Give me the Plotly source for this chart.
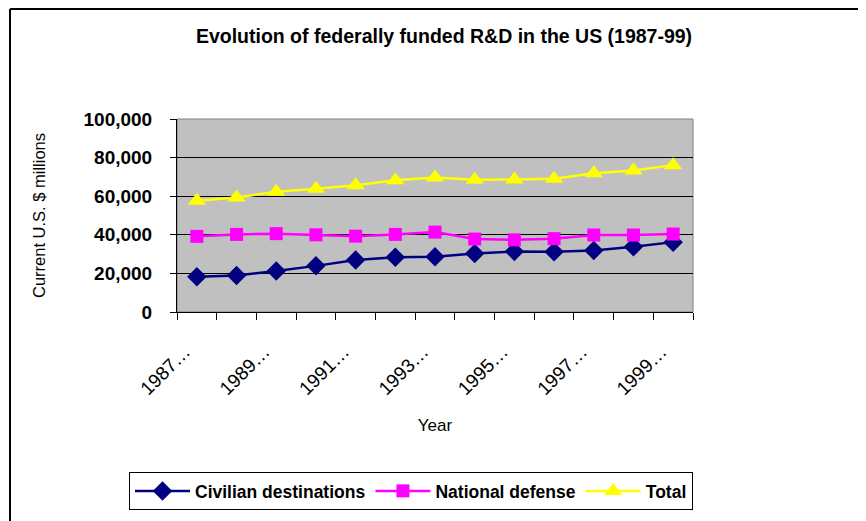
import plotly.graph_objects as go

years = [1987, 1988, 1989, 1990, 1991, 1992, 1993, 1994, 1995, 1996, 1997, 1998, 1999]
civilian = [18200, 18900, 21300, 23900, 26900, 28400, 28600, 30300, 31400, 31200, 31900, 33800, 36200]
defense = [39200, 40200, 40600, 40000, 39300, 40200, 41400, 37800, 37400, 38000, 39900, 39900, 40400]
total = [57600, 59300, 62300, 63800, 65700, 68300, 69700, 68500, 68600, 69000, 71900, 73300, 76100]
label_years = [1987, 1989, 1991, 1993, 1995, 1997, 1999]
label_text = [f"{y}\u2026" for y in label_years]
y_ticks = [0, 20000, 40000, 60000, 80000, 100000]

FONT = "Liberation Sans, Arial, sans-serif"

fig = go.Figure()
fig.add_trace(go.Scatter(x=years, y=civilian, name="Civilian destinations", mode="lines+markers",
                         line=dict(color="#000080", width=2.5),
                         marker=dict(symbol="diamond", size=15, color="#000080")))
fig.add_trace(go.Scatter(x=years, y=defense, name="National defense", mode="lines+markers",
                         line=dict(color="#FF00FF", width=2.5),
                         marker=dict(symbol="square", size=13, color="#FF00FF")))
fig.add_trace(go.Scatter(x=years, y=total, name="Total", mode="lines+markers",
                         line=dict(color="#FFFF00", width=2.5),
                         marker=dict(symbol="triangle-up", size=16, color="#FFFF00")))

# page offset of the figure div (default body margin)
OX, OY = 8, 8
W, H = 866 - OX, 521 - OY
L, R, T, B = 177 - OX, 866 - 693, 119 - OY, 521 - 312
pw, ph = W - L - R, H - T - B

def px(xp):
    return (xp - OX - L) / pw

def py(yp):
    return (OY + H - B - yp) / ph

fig.update_layout(
    width=W, height=H,
    margin=dict(l=L, r=R, t=T, b=B, autoexpand=False),
    paper_bgcolor="white",
    plot_bgcolor="#C0C0C0",
    font=dict(family=FONT, size=17, color="black"),
    title=dict(text="Evolution of federally funded R&D in the US (1987-99)",
               x=px(444), xref="paper", xanchor="center", y=1 - (36 - OY) / H, yanchor="middle",
               font=dict(size=19.5, family=FONT, weight="bold")),
    showlegend=True,
    legend=dict(orientation="h", x=px(129), y=py(491), xanchor="left", yanchor="middle",
                bordercolor="black", borderwidth=1, bgcolor="white",
                font=dict(size=17.5, family=FONT, weight="bold"), tracegroupgap=0,
                itemwidth=55),
    xaxis=dict(range=[1986.5, 1999.5], tickvals=label_years, ticktext=label_text,
               tickangle=-45, ticks="", showgrid=False, zeroline=False,
               showline=True, linecolor="black", linewidth=1,
               tickfont=dict(size=19, family=FONT), ticklabelstandoff=20, ticklabelshift=-12,
               minor=dict(tick0=1986.5, dtick=1, ticks="outside", ticklen=7,
                          tickcolor="black", showgrid=False),
               title=dict(text="Year", font=dict(size=17, family=FONT), standoff=20),
               automargin=False, fixedrange=True),
    yaxis=dict(range=[0, 100000], tickvals=y_ticks, tickformat=",d",
               ticks="outside", ticklen=6, tickcolor="black",
               showgrid=True, gridcolor="black", gridwidth=1, zeroline=False,
               showline=True, linecolor="black", linewidth=1,
               tickfont=dict(size=19, family=FONT, weight="bold"), ticklabelstandoff=14,
               title=dict(text="Current U.S. $ millions", font=dict(size=16.5, family=FONT), standoff=33),
               automargin=False, fixedrange=True),
)

# plot-area frame (gray) and outer chart frame
fig.add_shape(type="rect", xref="paper", yref="paper", x0=0, x1=1, y0=0, y1=1,
              line=dict(color="#808080", width=1), layer="below")
fig.add_shape(type="line", xref="paper", yref="paper", x0=px(10), x1=px(880), y0=py(9), y1=py(9),
              line=dict(color="black", width=2))
fig.add_shape(type="line", xref="paper", yref="paper", x0=px(10), x1=px(10), y0=py(9), y1=py(530),
              line=dict(color="black", width=2))

fig.write_html("out.html")
